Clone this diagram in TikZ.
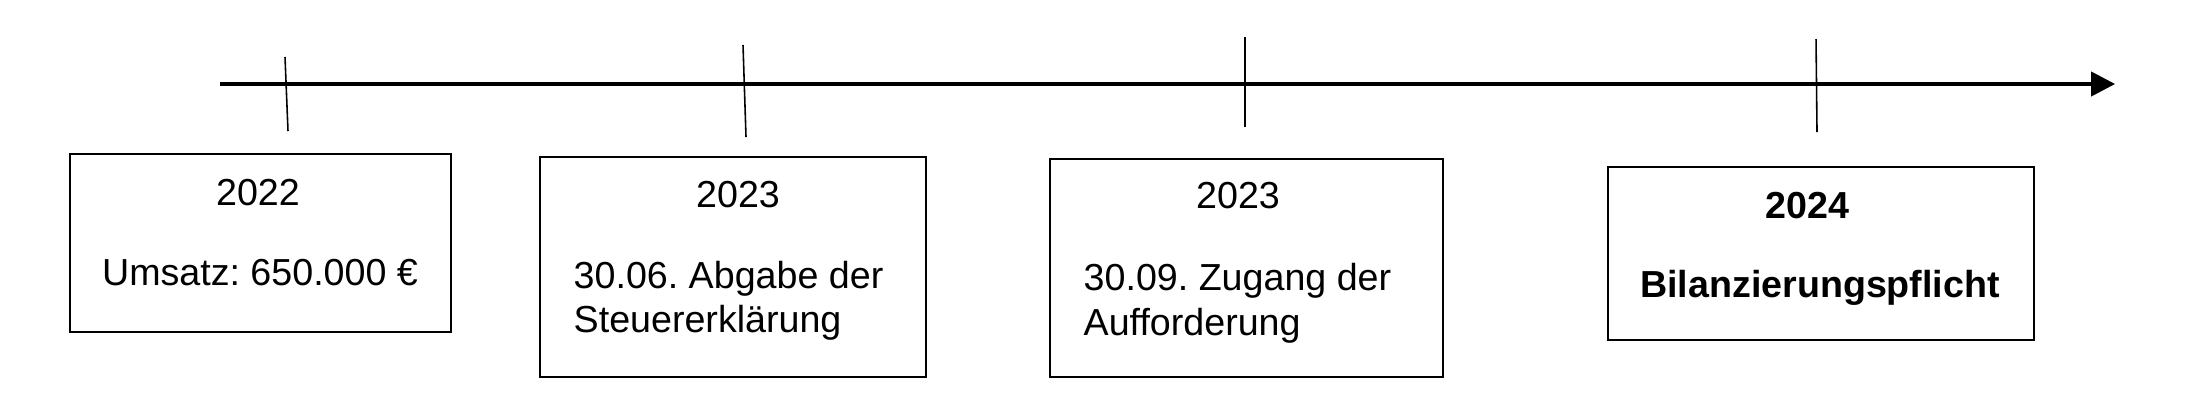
\documentclass[tikz,border=0pt]{standalone}
\usepackage{fontspec}
\setmainfont{Liberation Sans}
\usetikzlibrary{arrows.meta}
\frenchspacing
\tikzset{
  yearbox/.style={draw,line width=0.8pt,inner sep=0pt},
  tickmark/.style={line width=0.45pt},
  boxtext/.style={anchor=base,inner sep=0pt},
  linetext/.style={anchor=base west,inner sep=0pt},
}

\begin{document}
\begin{tikzpicture}[x=0.01cm,y=0.01cm,font=\fontsize{10.7}{12.5}\selectfont]
\useasboundingbox (0,0) rectangle (2186,414);
% Zeitachse
\coordinate (start) at (220,330);
\coordinate (end) at (2115,330);
\draw[line width=0.9pt,-{Triangle[length=6.8pt,width=6.9pt]}] (start) -- (end);
% Markierungen
\foreach \n/\xa/\ya/\xb/\yb in {1/285/357/288/283,2/743/369/746/277,3/1245/377/1245/287,4/1816/375/1817/282}{
  \coordinate (t\n a) at (\xa,\ya); \coordinate (t\n b) at (\xb,\yb);
  \draw[tickmark] (t\n a) -- (t\n b);
}
% Kaesten
\foreach \n/\x/\y/\w/\h in {1/260.5/171/381/178,2/733/147/386/220,3/1246.5/146/393/218,4/1821/160.5/426/173}
  \node[yearbox,minimum width=\w*0.01cm,minimum height=\h*0.01cm] (box\n) at (\x,\y) {};
% Texte
\node[boxtext] (y1) at (258,209) {2022};
\node[boxtext] (u1) at (260,129) {Umsatz: 650.000 €};
\node[boxtext] (y2) at (738,207) {2023};
\node[linetext] (u2a) at (573,126) {30.06. Abgabe der};
\node[linetext] (u2b) at (573,82) {Steuererklärung};
\node[boxtext] (y3) at (1238,206) {2023};
\node[linetext] (u3a) at (1083,124) {30.09. Zugang der};
\node[linetext] (u3b) at (1083,79) {Aufforderung};
\node[boxtext,font=\bfseries\fontsize{10.7}{12.5}\selectfont] (y4) at (1807.5,196) {2024};
\node[boxtext,font=\bfseries\fontsize{10.7}{12.5}\selectfont] (u4) at (1820,117) {Bilanzierungspflicht};
\end{tikzpicture}
\end{document}
